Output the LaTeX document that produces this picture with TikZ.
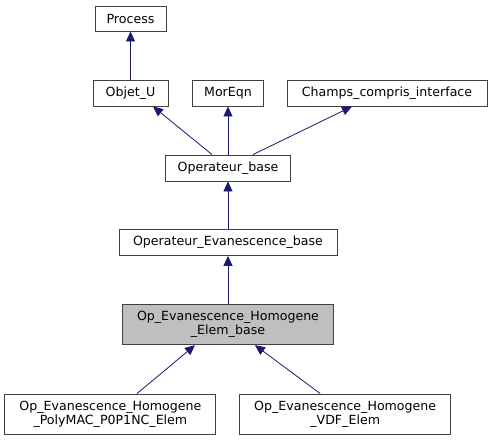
\documentclass[tikz,border=0pt]{standalone}
\usepackage{fontspec}
\setmainfont{DejaVu Sans}
\usetikzlibrary{arrows.meta}
\definecolor{edgecol}{HTML}{191970}
\definecolor{boxborder}{HTML}{404040}
\definecolor{hlfill}{HTML}{BFBFBF}
\begin{document}
\begin{tikzpicture}[x=1pt,y=-1pt,
  cls/.style={draw=boxborder, line width=0.9pt, fill=white, inner sep=0pt, font=\fontsize{12.6}{14}\selectfont, align=center},
  inh/.style={draw=edgecol, line width=0.8pt, -{Triangle[length=10pt,width=9pt,fill=edgecol]}}]
\useasboundingbox (0,0) rectangle (491,440);
\node[cls, minimum width=71pt, minimum height=25pt] (process) at (130.5,18.5) {Process};
\node[cls, minimum width=75pt, minimum height=26pt] (objet) at (130.5,93) {Objet\_U};
\node[cls, minimum width=71pt, minimum height=26pt] (moreqn) at (228,93) {MorEqn};
\node[cls, minimum width=200pt, minimum height=26pt] (champs) at (387,93) {Champs\_compris\_interface};
\node[cls, minimum width=125pt, minimum height=26pt] (opbase) at (228,168) {Operateur\_base};
\node[cls, minimum width=218pt, minimum height=26pt] (opevab) at (228,242.5) {Operateur\_Evanescence\_base};
\node[cls, fill=hlfill, minimum width=211pt, minimum height=40pt] (ophom) at (228,324.7) {Op\_Evanescence\_Homogene\\\_Elem\_base};
\node[cls, minimum width=211pt, minimum height=40pt] (poly) at (110.4,414) {Op\_Evanescence\_Homogene\\\_PolyMAC\_P0P1NC\_Elem};
\node[cls, minimum width=211pt, minimum height=40pt] (vdf) at (345.2,414) {Op\_Evanescence\_Homogene\\\_VDF\_Elem};
\draw[inh] (objet.north) -- (process.south);
\draw[inh] ([xshift=-16pt]opbase.north) -- ([xshift=22.5pt]objet.south);
\draw[inh] (opbase.north) -- (moreqn.south);
\draw[inh] ([xshift=25pt]opbase.north) -- ([xshift=-35pt]champs.south);
\draw[inh] (opevab.north) -- (opbase.south);
\draw[inh] (ophom.north) -- (opevab.south);
\draw[inh] ([xshift=26.6pt]poly.north) -- ([xshift=-33pt]ophom.south);
\draw[inh] ([xshift=-25pt]vdf.north) -- ([xshift=27pt]ophom.south);
\end{tikzpicture}
\end{document}
